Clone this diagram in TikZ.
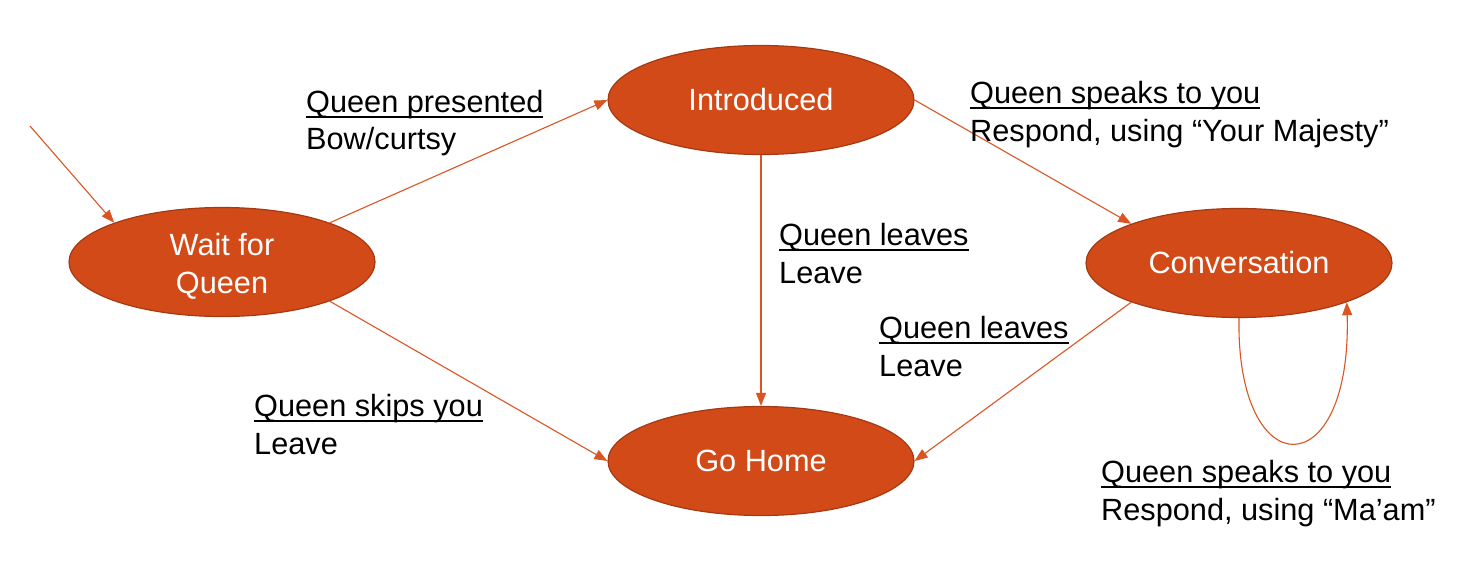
\documentclass[tikz,border=0pt]{standalone}
\usepackage{fontspec}
\setmainfont{Liberation Sans}
\usetikzlibrary{shapes.geometric,arrows.meta}
\definecolor{stfill}{HTML}{D14A18}
\definecolor{stedge}{HTML}{A53A12}
\definecolor{edgecol}{HTML}{DA5522}
\newcommand\ulin[1]{\setbox0\hbox{#1}\rlap{\raisebox{-5.5pt}{\rule{\wd0}{1.8pt}}}\box0}
\newcommand\lbl[2]{\vtop{\baselineskip=38pt\hbox{\ulin{#1}}\hbox{#2}}}
\begin{document}
\begin{tikzpicture}[x=1pt,y=-1pt,
  state/.style={ellipse,draw=stedge,line width=1.2pt,fill=stfill,text=white,
    minimum width=306pt,minimum height=109pt,inner sep=0pt,align=center,
    font=\fontsize{30.7}{38}\selectfont},
  trans/.style={draw=edgecol,line width=1.1pt,-{Triangle[length=13pt,width=10pt]}},
  lab/.style={anchor=base west,inner sep=0pt,font=\fontsize{30.7}{38}\selectfont}]
\useasboundingbox (0,0) rectangle (1484,586);
\node[state] (wait) at (222,262) {\rule{0pt}{30pt}Wait for\\Queen};
\node[state] (intro) at (761,100) {Introduced};
\node[state] (conv) at (1239,263) {Conversation};
\node[state] (home) at (761,461) {Go Home};
\coordinate (start) at (30,126);
\draw[trans] (start) -- (wait.160);
\draw[trans] (wait.20) -- (intro.west);
\draw[trans] (wait.-20) -- (home.west);
\draw[trans] (intro.south) -- (home.north);
\draw[trans] (intro.east) -- (conv.160);
\draw[trans] (conv.200) -- (home.east);
\draw[trans] (conv.south) .. controls (1236,487) and (1352,487) .. (conv.-20);
\node[lab] (l1) at (306,112) {\lbl{Queen presented}{Bow/curtsy}};
\node[lab] (l2) at (970,103) {\lbl{Queen speaks to you}{Respond, using “Your Majesty”}};
\node[lab] (l3) at (779,245) {\lbl{Queen leaves}{Leave}};
\node[lab] (l4) at (879,338) {\lbl{Queen leaves}{Leave}};
\node[lab] (l5) at (254,416) {\lbl{Queen skips you}{Leave}};
\node[lab] (l6) at (1101,482) {\lbl{Queen speaks to you}{Respond, using “Ma’am”}};
\end{tikzpicture}
\end{document}
